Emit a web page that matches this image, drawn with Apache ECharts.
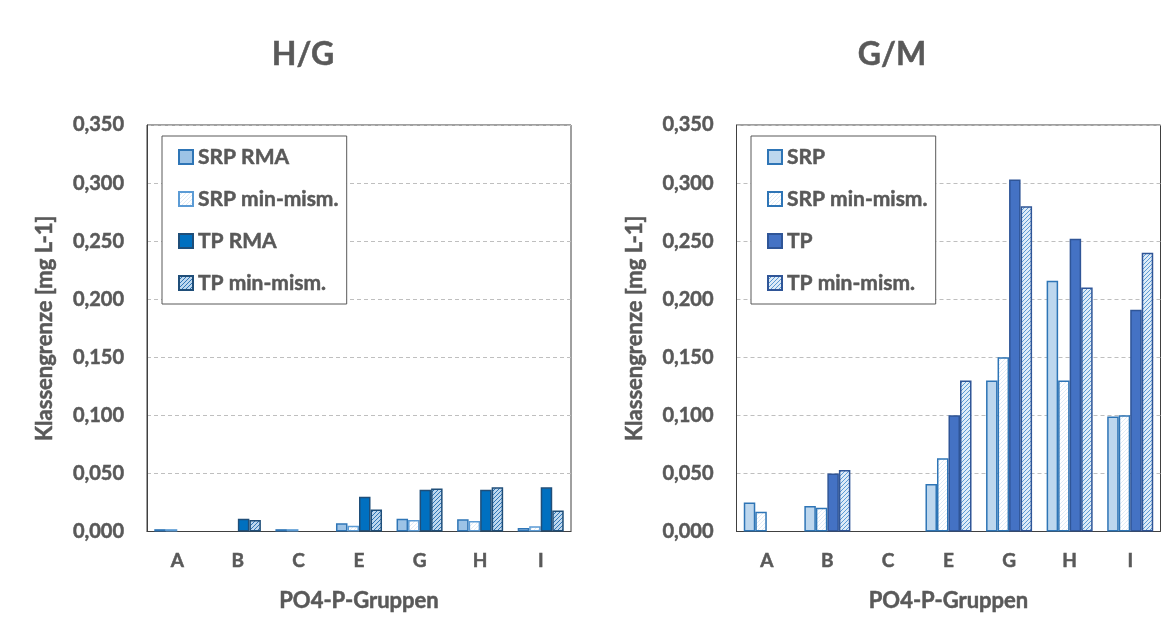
<!DOCTYPE html>
<html>
<head>
<meta charset="utf-8">
<script src="https://cdn.jsdelivr.net/npm/echarts@6/dist/echarts.min.js"></script>
<style>
html,body{margin:0;padding:0;background:#fff;}
#c{width:1173px;height:641px;}
</style>
</head>
<body>
<div id="c"></div>
<script>
// ---- data ----
const categories = ['A', 'B', 'C', 'E', 'G', 'H', 'I'];
const yTicks = [0, 0.05, 0.10, 0.15, 0.20, 0.25, 0.30, 0.35];

// H/G (left)
const leftNames = ['SRP RMA', 'SRP min-mism.', 'TP RMA', 'TP min-mism.'];
const hgSrpRma  = [0.002, null, 0.002, 0.007, 0.011, 0.0105, 0.003];
const hgSrpMin  = [0.002, null, 0.002, 0.005, 0.010, 0.009, 0.0045];
const hgTpRma   = [null, 0.011, null, 0.030, 0.036, 0.036, 0.038];
const hgTpMin   = [null, 0.010, null, 0.019, 0.037, 0.038, 0.018];

// G/M (right)
const rightNames = ['SRP', 'SRP min-mism.', 'TP', 'TP min-mism.'];
const gmSrp     = [0.025, 0.022, null, 0.041, 0.130, 0.216, 0.099];
const gmSrpMin  = [0.017, 0.0205, null, 0.063, 0.150, 0.130, 0.100];
const gmTp      = [null, 0.050, null, 0.100, 0.303, 0.252, 0.191];
const gmTpMin   = [null, 0.053, null, 0.130, 0.280, 0.210, 0.240];

// ---- patterns ----
function hatch(bg, line, size, lw) {
  const c = document.createElement('canvas');
  c.width = size; c.height = size;
  const g = c.getContext('2d');
  g.fillStyle = bg; g.fillRect(0, 0, size, size);
  g.strokeStyle = line; g.lineWidth = lw;
  g.beginPath();
  g.moveTo(-1, size + 1); g.lineTo(size + 1, -1);
  g.moveTo(-1, 1); g.lineTo(1, -1);
  g.moveTo(size - 1, size + 1); g.lineTo(size + 1, size - 1);
  g.stroke();
  return { image: c, repeat: 'repeat' };
}

const FONT = 'Lato';
const TXT = '#595959';
const heavy = { textBorderColor: TXT, textBorderWidth: 0.5 };

const leftStyles = [
  { color: '#9DC3E6', borderColor: '#2E75B6', borderWidth: 1.5 },
  { color: hatch('#FFFFFF', '#DEEBF7', 4, 1), borderColor: '#5B9BD5', borderWidth: 1.5 },
  { color: '#0070C0', borderColor: '#1F4E79', borderWidth: 1.5 },
  { color: hatch('#BDD7EE', '#2E75B6', 4, 1), borderColor: '#1F4E79', borderWidth: 1.5 }
];
const rightStyles = [
  { color: '#BDD7EE', borderColor: '#2E75B6', borderWidth: 1.5 },
  { color: hatch('#FFFFFF', '#DEEBF7', 4, 1), borderColor: '#2E75B6', borderWidth: 1.5 },
  { color: '#4472C4', borderColor: '#2F5597', borderWidth: 1.5 },
  { color: hatch('#DEEBF7', '#5B9BD5', 4, 1), borderColor: '#2F5597', borderWidth: 1.5 }
];

const leftData = [hgSrpRma, hgSrpMin, hgTpRma, hgTpMin];
const rightData = [gmSrp, gmSrpMin, gmTp, gmTpMin];
const SUFFIX = '\u2009';

function fmt(v) { return v.toFixed(3).replace('.', ','); }

function xAxis(gi) {
  return {
    type: 'category', gridIndex: gi, data: categories,
    axisLine: { show: true, lineStyle: { color: '#404040', width: 1 } },
    axisTick: { show: false },
    axisLabel: Object.assign({ color: TXT, fontFamily: FONT, fontWeight: 'bold', fontSize: 19, margin: 20 }, heavy),
    name: 'PO4-P-Gruppen', nameLocation: 'middle', nameGap: 58,
    nameTextStyle: Object.assign({ color: TXT, fontFamily: FONT, fontWeight: 'bold', fontSize: 22 }, heavy)
  };
}
function yAxis(gi) {
  return {
    type: 'value', gridIndex: gi, min: 0, max: 0.35, interval: 0.05,
    axisLine: { show: true, lineStyle: { color: '#404040', width: 1 } },
    axisTick: { show: false },
    splitLine: { show: true, lineStyle: { color: '#BFBFBF', type: [4, 3], width: 1 } },
    axisLabel: Object.assign({ color: TXT, fontFamily: FONT, fontWeight: 'bold', fontSize: 20, margin: 23, formatter: fmt }, heavy),
    name: 'Klassengrenze [mg L-1]', nameLocation: 'middle', nameGap: 91,
    nameTextStyle: Object.assign({ color: TXT, fontFamily: FONT, fontWeight: 'bold', fontSize: 22 }, heavy)
  };
}
function legend(names, left, suffix) {
  return {
    orient: 'vertical', left: left, top: 136,
    data: names.map(n => n + suffix),
    formatter: n => n.replace(SUFFIX, ''),
    icon: 'rect', itemWidth: 14, itemHeight: 14, itemGap: 20,
    padding: [10, 8, 10, 16],
    backgroundColor: '#fff',
    borderColor: '#595959', borderWidth: 1, borderRadius: 0,
    selectedMode: false,
    textStyle: Object.assign({ color: TXT, fontFamily: FONT, fontWeight: 'bold', fontSize: 21, lineHeight: 22 }, heavy)
  };
}

const series = [];
leftNames.forEach((n, i) => {
  series.push({
    name: n, type: 'bar', xAxisIndex: 0, yAxisIndex: 0, data: leftData[i],
    itemStyle: leftStyles[i], barGap: '0%', barCategoryGap: '24%', z: 3
  });
});
rightNames.forEach((n, i) => {
  series.push({
    name: n + SUFFIX, type: 'bar', xAxisIndex: 1, yAxisIndex: 1, data: rightData[i],
    itemStyle: rightStyles[i], barGap: '0%', barCategoryGap: '24%', z: 3
  });
});

const chart = echarts.init(document.getElementById('c'), null, { renderer: 'canvas' });
chart.setOption({
  animation: false,
  backgroundColor: '#fff',
  title: [
    { text: 'H/G', left: 298, top: 34, textAlign: 'center',
      textStyle: Object.assign({ color: TXT, fontFamily: FONT, fontWeight: 'bold', fontSize: 32 }, heavy) },
    { text: 'G/M', left: 887, top: 34, textAlign: 'center',
      textStyle: Object.assign({ color: TXT, fontFamily: FONT, fontWeight: 'bold', fontSize: 32 }, heavy) }
  ],
  grid: [
    { left: 147, right: 602, top: 125, bottom: 109.5, show: true, borderColor: '#404040', borderWidth: 1, containLabel: false },
    { left: 736.5, right: 12.5, top: 125, bottom: 109.5, show: true, borderColor: '#404040', borderWidth: 1, containLabel: false }
  ],
  legend: [legend(leftNames, 162, ''), legend(rightNames, 751, SUFFIX)],
  xAxis: [xAxis(0), xAxis(1)],
  yAxis: [yAxis(0), yAxis(1)],
  series: series
});
</script>
</body>
</html>
